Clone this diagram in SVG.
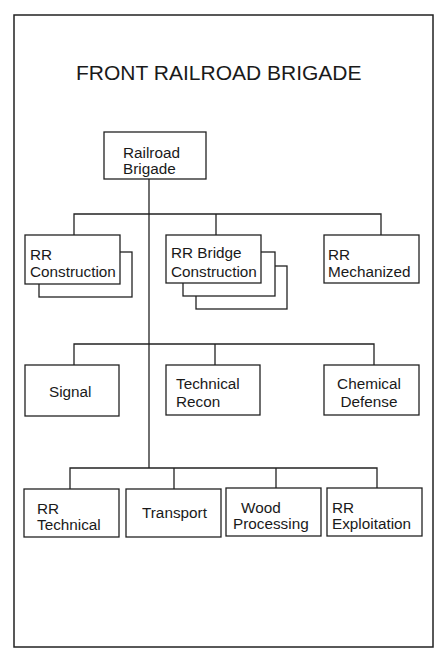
<svg xmlns="http://www.w3.org/2000/svg" width="443" height="648" viewBox="0 0 443 648">
<style>
.box{fill:#fff;stroke:#222;stroke-width:1.3}
.ln{fill:none;stroke:#222;stroke-width:1.3}
text{font-family:"Liberation Sans",Arial,sans-serif;font-size:15.3px;fill:#1a1a1a}
.title{font-size:21px}
</style>
<rect width="443" height="648" fill="#fff"/>
<rect x="14" y="15" width="419" height="632" fill="none" stroke="#222" stroke-width="1.5"/>
<text class="title" x="76" y="80">FRONT RAILROAD BRIGADE</text>
<g id="connectors">
<path class="ln" d="M149 179V468"/>
<path class="ln" d="M74 235V214H381V235M216 214V235"/>
<path class="ln" d="M74 365V344H374V365M215 344V365"/>
<path class="ln" d="M70 489V468H377V489M174 468V489M276 468V489"/>
</g>
<g id="railroad-brigade">
<rect class="box" x="104" y="132" width="102" height="47"/>
<text x="123" y="157.5">Railroad</text>
<text x="123" y="173.5">Brigade</text>
</g>
<g id="rr-construction">
<rect class="box" x="39" y="252" width="93" height="45"/>
<rect class="box" x="25" y="235" width="95" height="49"/>
<text x="30" y="260">RR</text>
<text x="30" y="277">Construction</text>
</g>
<g id="rr-bridge-construction">
<rect class="box" x="196" y="266" width="91" height="43"/>
<rect class="box" x="183" y="252" width="92" height="44"/>
<rect class="box" x="166" y="235" width="95" height="48"/>
<text x="171" y="258">RR Bridge</text>
<text x="171" y="277">Construction</text>
</g>
<g id="rr-mechanized">
<rect class="box" x="324" y="235" width="95" height="48"/>
<text x="328" y="260">RR</text>
<text x="328" y="277">Mechanized</text>
</g>
<g id="signal">
<rect class="box" x="25" y="365" width="94" height="51"/>
<text x="49" y="397">Signal</text>
</g>
<g id="technical-recon">
<rect class="box" x="166" y="365" width="94" height="50"/>
<text x="176" y="389">Technical</text>
<text x="176" y="407">Recon</text>
</g>
<g id="chemical-defense">
<rect class="box" x="324" y="365" width="95" height="50"/>
<text x="369" y="389" text-anchor="middle">Chemical</text>
<text x="369" y="407" text-anchor="middle">Defense</text>
</g>
<g id="rr-technical">
<rect class="box" x="24" y="489" width="95" height="48"/>
<text x="37" y="514">RR</text>
<text x="37" y="530">Technical</text>
</g>
<g id="transport">
<rect class="box" x="126" y="489" width="95" height="48"/>
<text x="142" y="518">Transport</text>
</g>
<g id="wood-processing">
<rect class="box" x="226" y="488" width="95" height="48"/>
<text x="241" y="513">Wood</text>
<text x="233" y="529">Processing</text>
</g>
<g id="rr-exploitation">
<rect class="box" x="327" y="488" width="95" height="48"/>
<text x="332" y="513">RR</text>
<text x="332" y="529">Exploitation</text>
</g>
</svg>
